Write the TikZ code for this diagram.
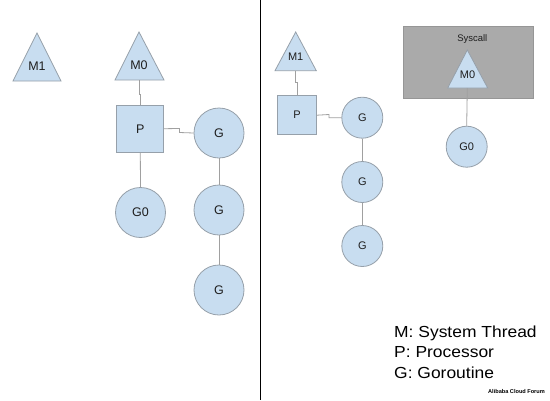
\documentclass[tikz,border=0pt]{standalone}
\usepackage{fontspec}
\setmainfont{Liberation Sans}
\usetikzlibrary{calc}
\definecolor{nodefill}{RGB}{200,221,240}
\definecolor{nodeline}{RGB}{150,160,170}
\definecolor{conline}{RGB}{160,160,160}
\definecolor{boxfill}{RGB}{170,170,170}
\definecolor{boxline}{RGB}{150,150,150}
\definecolor{txt}{RGB}{30,30,30}
\tikzset{
  tri/.style={fill=nodefill,draw=nodeline,line width=0.8pt,line join=miter},
  lab/.style={inner sep=0pt,text=txt,font=\fontsize{12.5}{12.5}\selectfont},
  smalllab/.style={inner sep=0pt,text=txt,font=\fontsize{11}{11}\selectfont},
  bigsq/.style={draw=nodeline,fill=nodefill,line width=0.8pt,minimum size=47pt,inner sep=0pt,text=txt,font=\fontsize{12.5}{12.5}\selectfont},
  smallsq/.style={draw=nodeline,fill=nodefill,line width=0.8pt,minimum size=39pt,inner sep=0pt,text=txt,font=\fontsize{11}{11}\selectfont},
  bigg/.style={circle,draw=nodeline,fill=nodefill,line width=0.8pt,minimum size=50pt,inner sep=0pt,text=txt,font=\fontsize{12.5}{12.5}\selectfont},
  smallg/.style={circle,draw=nodeline,fill=nodefill,line width=0.8pt,minimum size=41pt,inner sep=0pt,text=txt,font=\fontsize{11}{11}\selectfont},
  con/.style={draw=conline,line width=0.8pt},
  legend/.style={inner sep=0pt,anchor=base west,font=\fontsize{16}{16}\selectfont,text=black}
}
\newcommand{\wide}[1]{\scalebox{1.09}[1]{#1}}
\begin{document}
\begin{tikzpicture}[x=1pt,y=-1pt]
\useasboundingbox (0,0) rectangle (550,400);
\fill[white] (0,0) rectangle (550,400);
% divider
\coordinate (dtop) at (260.5,0);
\coordinate (dbot) at (260.5,400);
\draw[black,line width=1pt] (dtop) -- (dbot);

% ---------- left panel ----------
\path[tri] (37,33) -- (13,81) -- (61,81) -- cycle;
\node[lab] (LM1) at (37,66) {M1};
\path[tri] (139,32) -- (115,80) -- (164,80) -- cycle;
\node[lab] (LM0) at (139,65) {M0};
\coordinate (LM0b) at (139,80);
\node[bigsq] (LP) at (140.3,128.7) {P};
\node[bigg] (LG1) at (219,133) {G};
\node[bigg] (LG0) at (140.5,212.5) {G0};
\node[bigg] (LG2) at (219,210) {G};
\node[bigg] (LG3) at (219,290) {G};
\draw[con] (LM0b) -- ++(0,14) -| (LP.north);
\draw[con] (LP.east) -- (179.5,128.5) -- (179.5,132.5) -- (LG1.west);
\draw[con] (LP.south) -- (LG0.north);
\draw[con] (LG1.south) -- (LG2.north);
\draw[con] (LG2.south) -- (LG3.north);

% ---------- right panel ----------
\path[tri] (295.7,32) -- (275,70.7) -- (316.3,70.7) -- cycle;
\node[smalllab] (RM1) at (295.7,57) {M1};
\coordinate (RM1b) at (295.7,70.7);
\node[smallsq] (RP) at (297,115.2) {P};
\node[smallg] (RG1) at (362.3,117.7) {G};
\node[smallg] (RG2) at (362.3,182) {G};
\node[smallg] (RG3) at (362.3,246) {G};
\draw[con] (RM1b) -- ++(0,12) -| (RP.north);
\draw[con] (RP.east) -- (329,114.5) -- (329,117.7) -- (RG1.west);
\draw[con] (RG1.south) -- (RG2.north);
\draw[con] (RG2.south) -- (RG3.north);

% syscall box
\node[draw=boxline,fill=boxfill,line width=0.8pt,minimum width=130pt,minimum height=72pt,inner sep=0pt,anchor=north west] (SYS) at (403.3,25.7) {};
\node[inner sep=0pt,text=txt,font=\fontsize{9.5}{9.5}\selectfont] (SYSL) at (472.3,39) {Syscall};
\path[tri] (467.3,50) -- (447.7,88) -- (487.7,88) -- cycle;
\node[smalllab] (RM0) at (467.5,74.5) {M0};
\coordinate (RM0b) at (467.3,88);
\node[smallg] (RG0) at (466.7,146.7) {G0};
\draw[con] (RM0b) -- (RG0.north);

% legend
\node[legend] (L1) at (394,337) {\wide{M: System Thread}};
\node[legend] (L2) at (394,357.3) {\wide{P: Processor}};
\node[legend] (L3) at (394,378.3) {\wide{G: Goroutine}};
\node[inner sep=0pt,anchor=base west,font=\bfseries\fontsize{5.6}{5.6}\selectfont,text=black] (WM) at (488,393.5) {Alibaba Cloud Forum};
\end{tikzpicture}
\end{document}
